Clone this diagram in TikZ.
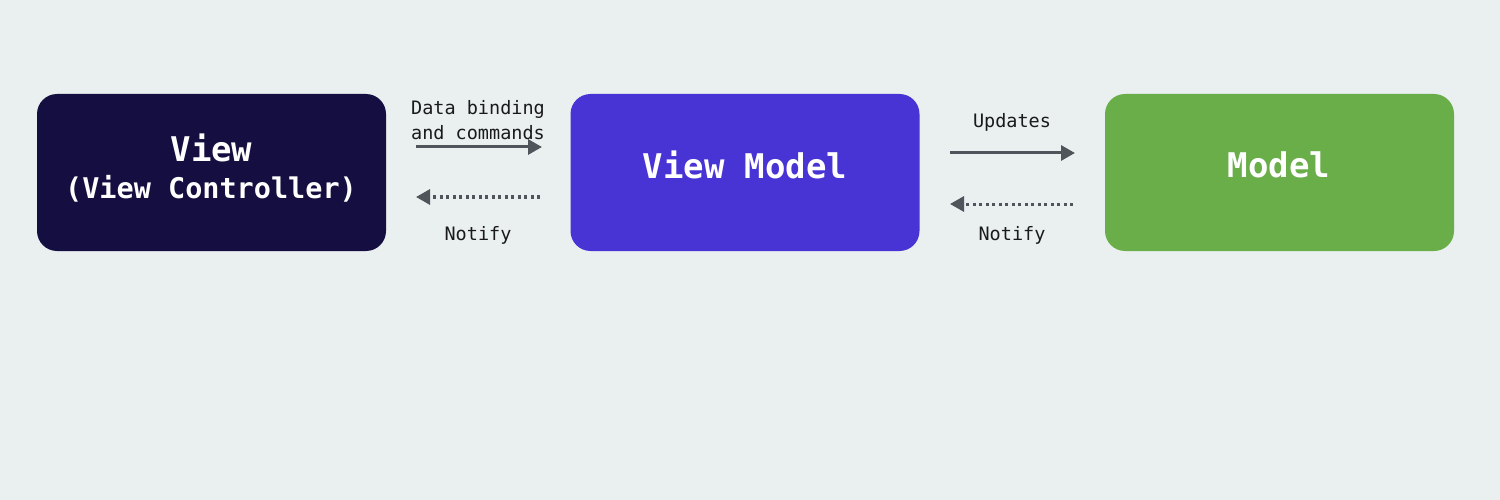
\documentclass[tikz,border=0pt]{standalone}
\usepackage{fontspec}
\setmonofont{DejaVu Sans Mono}
\usetikzlibrary{arrows.meta}
\definecolor{bg}{HTML}{EAF0F0}
\definecolor{viewc}{HTML}{140F40}
\definecolor{vmc}{HTML}{4834D4}
\definecolor{modc}{HTML}{6AAE4A}
\definecolor{arrc}{HTML}{50555C}
\definecolor{txtc}{HTML}{1A1A1A}
\tikzset{
  box/.style={rounded corners=20pt, minimum width=349pt, minimum height=157pt, inner sep=0pt},
  boxtext/.style={text=white, font=\ttfamily\bfseries\fontsize{34}{38}\selectfont, inner sep=0pt},
  subtext/.style={text=white, font=\ttfamily\bfseries\fontsize{28.5}{32}\selectfont, inner sep=0pt},
  lbl/.style={text=txtc, font=\ttfamily\fontsize{18.5}{24}\selectfont, inner sep=0pt, align=center},
  solidarr/.style={draw=arrc, line width=3pt, -{Triangle[length=14pt,width=15pt]}},
  dotarr/.style={draw=arrc, line width=3pt, dash pattern=on 3pt off 3.5pt, -{Triangle[length=14pt,width=15pt]}}
}
\begin{document}
\begin{tikzpicture}[x=1pt,y=-1pt]
\fill[bg] (0,0) rectangle (1500,500);
\useasboundingbox (0,0) rectangle (1500,500);
\node[box, fill=viewc] (view) at (211.5,172.5) {};
\node[box, fill=vmc] (vm) at (745,172.5) {};
\node[box, fill=modc] (model) at (1279.5,172.5) {};
\node[boxtext] (viewt) at (211.5,148) {View};
\node[subtext] (viewst) at (211,189) {(View Controller)};
\node[boxtext] (vmt) at (745,165) {View Model};
\node[boxtext] (modelt) at (1279,165) {Model};
\node[lbl] (l1) at (478,109) {Data binding};
\node[lbl] (l2) at (478,133) {and commands};
\node[lbl] (l3) at (478,235) {Notify};
\node[lbl] (l4) at (1012,122) {Updates};
\node[lbl] (l5) at (1012,235) {Notify};
\coordinate (a1s) at (416,147);
\coordinate (a1e) at (542,147);
\coordinate (a2s) at (540,197);
\coordinate (a2e) at (416,197);
\coordinate (a3s) at (950,153);
\coordinate (a3e) at (1075,153);
\coordinate (a4s) at (1073,204);
\coordinate (a4e) at (950,204);
\draw[solidarr] (a1s) -- (a1e);
\draw[dotarr] (a2s) -- (a2e);
\draw[solidarr] (a3s) -- (a3e);
\draw[dotarr] (a4s) -- (a4e);
\end{tikzpicture}
\end{document}
